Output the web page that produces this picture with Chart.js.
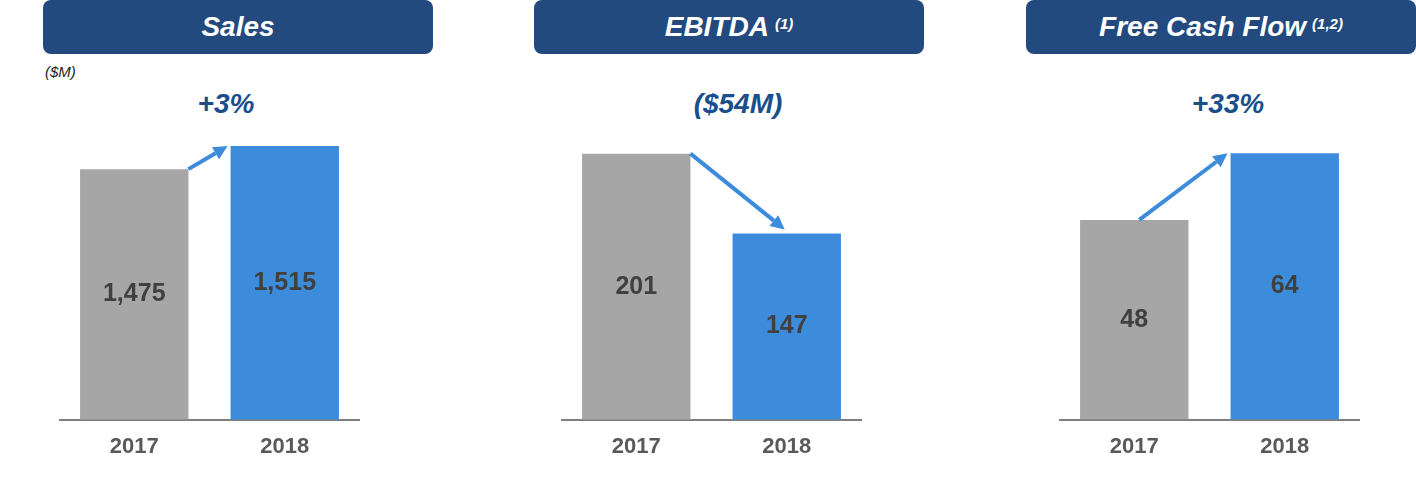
<!DOCTYPE html>
<html>
<head>
<meta charset="utf-8">
<script src="https://cdn.jsdelivr.net/npm/chart.js@4.4.0/dist/chart.umd.min.js"></script>
<style>
  html, body { margin: 0; padding: 0; background: #fff; width: 1416px; height: 501px; overflow: hidden; font-family: "Liberation Sans", Arial, sans-serif; }
  .hdr { position: absolute; top: 0; height: 54px; width: 390px; background: #224a7e; border-radius: 8px;
         color: #fff; font: italic bold 28px "Liberation Sans", Arial, sans-serif; display: flex; align-items: center; justify-content: center; }
  .hdr sup { font-size: 15px; margin-left: 6px; position: relative; top: -4px; }
  .chg { position: absolute; top: 86px; width: 240px; text-align: center; color: #1a4f8c;
         font: italic bold 28px "Liberation Sans", Arial, sans-serif; line-height: 36px; }
  .unit { position: absolute; left: 45px; top: 63px; font: italic 15px "Liberation Sans", Arial, sans-serif; color: #222; }
  .cv { position: absolute; top: 100px; width: 301px; height: 374px; }
</style>
</head>
<body>
<script>
// ---- data ----
const years = ['2017', '2018'];
const panelTitles = ['Sales', 'EBITDA', 'Free Cash Flow'];
const panelNotes = ['', '(1)', '(1,2)'];
const changeLabels = ['+3%', '($54M)', '+33%'];
const unitLabel = '($M)';
const salesValues = [1475, 1515];
const ebitdaValues = [201, 147];
const fcfValues = [48, 64];
const seriesList = [salesValues, ebitdaValues, fcfValues];
// axis ranges (as drawn in the reference)
const salesRange = [1040, 1543];
const ebitdaRange = [21, 217];
const fcfRange = [0, 69.6];
const rangeList = [salesRange, ebitdaRange, fcfRange];

// ---- layout / style ----
const hdrLeft = [43, 534, 1026];
const chgCenter = [226, 738, 1228];
const axisLeft = [59, 561, 1059];
const arrowAnchors = [
  { from: 'right', to: 'left' },
  { from: 'right', to: 'center' },
  { from: 'center', to: 'left' }
];
const barColors = ['#a6a6a6', '#3c8cdb'];
const arrowColor = '#3c8cdb';

function add(el) { document.body.appendChild(el); return el; }

for (let i = 0; i < 3; i++) {
  const h = document.createElement('div');
  h.className = 'hdr';
  h.style.left = hdrLeft[i] + 'px';
  h.textContent = panelTitles[i];
  if (panelNotes[i]) { const s = document.createElement('sup'); s.textContent = panelNotes[i]; h.appendChild(s); }
  add(h);
  const c = document.createElement('div');
  c.className = 'chg';
  c.style.left = (chgCenter[i] - 120) + 'px';
  c.textContent = changeLabels[i];
  add(c);
}
const u = document.createElement('div'); u.className = 'unit'; u.textContent = unitLabel; add(u);

const valueLabelPlugin = {
  id: 'valueLabels',
  afterDatasetsDraw(chart) {
    const ctx = chart.ctx;
    const meta = chart.getDatasetMeta(0);
    const data = chart.data.datasets[0].data;
    const bottom = chart.chartArea.bottom;
    ctx.save();
    ctx.font = 'bold 25px "Liberation Sans", Arial, sans-serif';
    ctx.fillStyle = '#404040';
    ctx.textAlign = 'center';
    ctx.textBaseline = 'middle';
    meta.data.forEach((bar, j) => {
      const y = (bar.y + Math.min(bar.base, bottom)) / 2;
      ctx.fillText(data[j].toLocaleString('en-US'), bar.x, y);
    });
    ctx.restore();
  }
};

const arrowPlugin = {
  id: 'arrow',
  afterDatasetsDraw(chart, args, opts) {
    const meta = chart.getDatasetMeta(0);
    const b1 = meta.data[0], b2 = meta.data[1];
    const w1 = b1.width, w2 = b2.width;
    let x1 = opts.from === 'right' ? b1.x + w1 / 2 : b1.x + 5;
    let y1 = b1.y;
    let x2, y2;
    if (opts.to === 'left') { x2 = b2.x - w2 / 2 - 3; y2 = b2.y; }
    else { x2 = b2.x - 2; y2 = b2.y - 4; }
    const ctx = chart.ctx;
    const ang = Math.atan2(y2 - y1, x2 - x1);
    const hl = 14, hw = 7;
    const bx = x2 - hl * Math.cos(ang), by = y2 - hl * Math.sin(ang);
    ctx.save();
    ctx.strokeStyle = arrowColor;
    ctx.fillStyle = arrowColor;
    ctx.lineWidth = 4;
    ctx.beginPath();
    ctx.moveTo(x1, y1);
    ctx.lineTo(bx, by);
    ctx.stroke();
    ctx.beginPath();
    ctx.moveTo(x2, y2);
    ctx.lineTo(bx + hw * Math.sin(ang), by - hw * Math.cos(ang));
    ctx.lineTo(bx - hw * Math.sin(ang), by + hw * Math.cos(ang));
    ctx.closePath();
    ctx.fill();
    ctx.restore();
  }
};

for (let i = 0; i < 3; i++) {
  const wrap = document.createElement('div');
  wrap.className = 'cv';
  wrap.style.left = axisLeft[i] + 'px';
  const cv = document.createElement('canvas');
  wrap.appendChild(cv);
  add(wrap);
  new Chart(cv, {
    type: 'bar',
    data: {
      labels: years,
      datasets: [{
        data: seriesList[i],
        backgroundColor: barColors,
        borderWidth: 0,
        categoryPercentage: 1,
        barPercentage: 0.72
      }]
    },
    options: {
      responsive: true,
      maintainAspectRatio: false,
      animation: false,
      events: [],
      layout: { padding: { top: 30, bottom: 0, left: 0, right: 0 } },
      plugins: {
        legend: { display: false },
        tooltip: { enabled: false },
        arrow: arrowAnchors[i]
      },
      scales: {
        x: {
          grid: { display: false, drawTicks: false },
          border: { display: true, color: '#7f7f7f', width: 2 },
          ticks: { color: '#595959', padding: 14, font: { family: '"Liberation Sans", Arial, sans-serif', size: 22, weight: 'bold' } }
        },
        y: {
          display: false,
          min: rangeList[i][0],
          max: rangeList[i][1]
        }
      }
    },
    plugins: [valueLabelPlugin, arrowPlugin]
  });
}
</script>
</body>
</html>
